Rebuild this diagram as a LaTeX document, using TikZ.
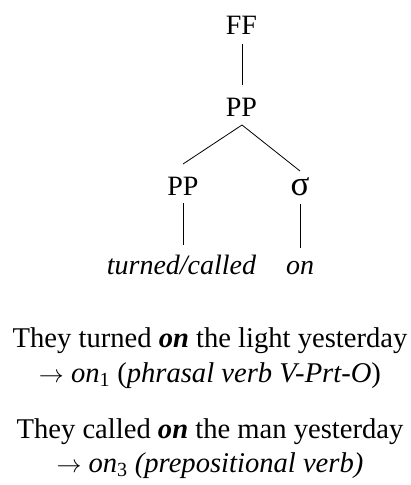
\documentclass[tikz,border=0pt]{standalone}
\usepackage{fontspec}
\setmainfont{Liberation Serif}
\begin{document}
\begin{tikzpicture}[x=1pt,y=-1pt,
  lbl/.style={anchor=base,inner sep=0pt,font=\fontsize{28}{33}\selectfont},
  sent/.style={anchor=base,inner sep=0pt,font=\fontsize{28.6}{34}\selectfont},
  branch/.style={line width=0.8pt}]
\useasboundingbox (0,0) rectangle (411,485);
% tree
\node[lbl] (ff) at (241.5,34) {FF};
\node[lbl] (pp) at (241.5,116) {PP};
\node[lbl] (ppl) at (183,195) {PP};
\node[lbl,font=\fontsize{35}{40}\selectfont] (sig) at (300,195) {σ};
\node[lbl] (w1) at (181.5,274) {\itshape turned/called};
\node[lbl] (w2) at (300,274) {\itshape on};
\coordinate (ffb) at (242,44);
\coordinate (ppt) at (242,85);
\coordinate (ppb) at (242,125);
\coordinate (pplt) at (183,164);
\coordinate (sigt) at (300,171);
\coordinate (pplb) at (183,203);
\coordinate (w1t) at (183,245);
\coordinate (sigb) at (300,204);
\coordinate (w2t) at (300,248);
\draw[branch] (ffb) -- (ppt);
\draw[branch] (ppb) -- (pplt);
\draw[branch] (ppb) -- (sigt);
\draw[branch] (pplb) -- (w1t);
\draw[branch] (sigb) -- (w2t);
% example sentences
\node[sent] (s1) at (210,347) {They turned \textbf{\itshape on} the light yesterday};
\node[sent] (g1) at (210,382) {$\rightarrow$ \textit{on}\textsubscript{1} (\textit{phrasal verb V-Prt-O})};
\node[sent] (s2) at (210,438) {They called \textbf{\itshape on} the man yesterday};
\node[sent] (g2) at (210,472) {$\rightarrow$ \textit{on}\textsubscript{3} \textit{(prepositional verb)}};
\end{tikzpicture}
\end{document}
